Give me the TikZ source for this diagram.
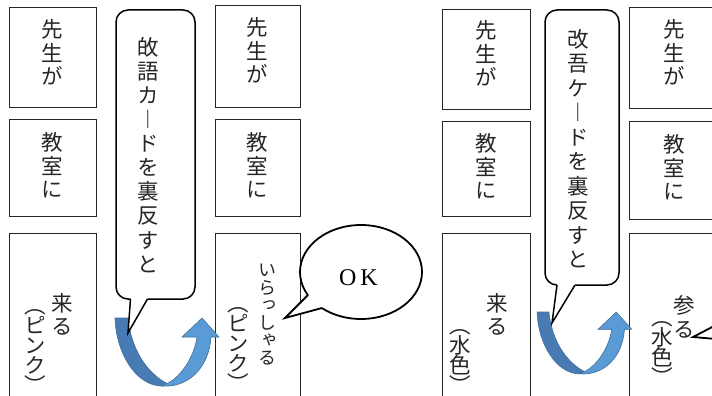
\documentclass[tikz,border=0pt]{standalone}
\usepackage{fontspec}
\usetikzlibrary{shapes.geometric}
\newfontfamily\vjp[RawFeature=+vert]{Noto Sans CJK JP}
\newfontfamily\okfont{Liberation Serif}
\definecolor{adark}{RGB}{72,122,180}
\definecolor{alight}{RGB}{91,155,213}
\definecolor{aline}{RGB}{65,113,156}
\makeatletter
\newcommand\Vt[2]{\vbox{\offinterlineskip\@tfor\V@c:=#2\do{\hbox to 24pt{\hss\vrule height\dimexpr#1pt/2+0.38em\relax depth\dimexpr#1pt/2-0.38em\relax width 0pt\V@c\hss}}}}
\makeatother
\newcommand\uarrow{%
  \filldraw[fill=adark, draw=aline, line width=0.6pt] (-1,0) .. controls (0,35) and (20,68) .. (46,68) -- (52,66) .. controls (30,55) and (15,30) .. (12,0) -- cycle;
  \filldraw[fill=alight, draw=aline, line width=0.6pt] (46,68) .. controls (72,70) and (93,50) .. (95,19) -- (103,19) -- (86,0) -- (66,19) -- (81,19) .. controls (78,40) and (64,60) .. (50,66) -- cycle;}
\tikzset{
  card/.style={draw=black!85, line width=0.8pt, rectangle, inner sep=0pt},
  callbox/.style={draw=black, line width=1.5pt, rounded corners=12pt, fill=white, rectangle, inner sep=0pt},
  vt/.style={inner sep=0pt, text=black!85, font=\vjp\fontsize{21.5}{24}\selectfont},
  vts/.style={inner sep=0pt, text=black!85, font=\vjp\fontsize{18}{20}\selectfont},
  tailline/.style={draw=black, line width=1.5pt, line join=miter},
}
\begin{document}
\begin{tikzpicture}[x=1pt, y=-1pt]
\useasboundingbox (0,0) rectangle (712,396);
\fill[white] (0,0) rectangle (712,396);
% left panel cards
\node[card, minimum width=87pt, minimum height=100pt] (a1) at (52.5,57) {};
\node[card, minimum width=87pt, minimum height=97pt] (a2) at (52.5,167.5) {};
\node[card, minimum width=87pt, minimum height=177pt] (a3) at (52.5,321.5) {};
\node[card, minimum width=85pt, minimum height=102pt] (b1) at (257.5,56) {};
\node[card, minimum width=85pt, minimum height=97pt] (b2) at (257.5,167.5) {};
\node[card, minimum width=85pt, minimum height=177pt] (b3) at (257.5,321.5) {};
% right panel cards
\node[card, minimum width=88pt, minimum height=100pt] (d1) at (486,59) {};
\node[card, minimum width=88pt, minimum height=95pt] (d2) at (486,168.5) {};
\node[card, minimum width=88pt, minimum height=177pt] (d3) at (486,321.5) {};
\node[card, minimum width=101pt, minimum height=101pt] (e1) at (679.5,57.5) {};
\node[card, minimum width=101pt, minimum height=98pt] (e2) at (679.5,170) {};
\node[card, minimum width=101pt, minimum height=177pt] (e3) at (679.5,321.5) {};
% U-turn arrows
\begin{scope}[shift={(116,318)}]\uarrow\end{scope}
\begin{scope}[shift={(538,312)}, scale=0.91]\uarrow\end{scope}
% callouts
\node[callbox, minimum width=79pt, minimum height=289pt] (c1) at (155.5,154.5) {};
\coordinate (c1tip) at (128,333);
\fill[white] (130.5,296.5) -- (130.5,299.5) -- (c1tip) -- (147.5,299.5) -- (147.5,296.5) -- cycle;
\draw[tailline] (130.5,299) -- (c1tip) -- (147.5,299);
\node[callbox, minimum width=74pt, minimum height=275pt] (c2) at (582,147.5) {};
\coordinate (c2tip) at (552,323);
\fill[white] (557,282.5) -- (557,285.5) -- (c2tip) -- (575,285.5) -- (575,282.5) -- cycle;
\draw[tailline] (557,285) -- (c2tip) -- (575,285);
% texts left panel
\node[vt] (ta1) at (52,53) {\Vt{23.5}{先生が}};
\node[vt] (ta2) at (52,166) {\Vt{23.5}{教室に}};
\node[vt] (ta3) at (62,314.5) {\Vt{23}{来る}};
\node[vt] (ta3p) at (35,345) {\Vt{20}{︵ピンク︶}};
\node[vt] (tb1) at (257,51) {\Vt{23.5}{先生が}};
\node[vt] (tb2) at (257,166) {\Vt{23.5}{教室に}};
\node[vts] (tb3) at (267,313.5) {\Vt{17.5}{いらっしゃる}};
\node[vt] (tb3p) at (238,343) {\Vt{20}{︵ピンク︶}};
\node[vt] (tc1) at (148,155.5) {\Vt{24.1}{敀語カ︱ドを裏反すと}};
% texts right panel
\node[vt] (tc2) at (578,149.5) {\Vt{24.5}{改吾ケ︱ドを裏反すと}};
\node[vt] (td1) at (486,54) {\Vt{23.5}{先生が}};
\node[vt] (td2) at (486,167) {\Vt{23.5}{教室に}};
\node[vt] (td3) at (497,314.5) {\Vt{23}{来る}};
\node[vt] (td3p) at (460,355) {\Vt{20}{︵水色︶}};
\node[vt] (te1) at (674,53) {\Vt{23.5}{先生が}};
\node[vt] (te2) at (674,168) {\Vt{23.5}{教室に}};
\node[vt] (te3) at (684,317) {\Vt{24}{参る}};
\node[vt] (te3p) at (662,347) {\Vt{20}{︵水色︶}};
% OK bubble
\node[draw=black, line width=1.8pt, ellipse, minimum width=122pt, minimum height=94pt, fill=white, inner sep=0pt] (okb) at (361,272) {};
\coordinate (oktip) at (285,318);
\fill[white] (oktip) -- (308,295) -- (318,291) -- (327,302) -- (322,308) -- cycle;
\draw[line width=1.8pt, line join=miter] (308,295) -- (oktip) -- (322,308);
\node[inner sep=0pt, font=\okfont\fontsize{24}{26}\selectfont, text=black] (oktext) at (358.5,277.5) {O\hspace{4pt}K};
% partial bubble tail at right edge
\coordinate (rtip) at (693,337);
\draw[line width=1.8pt, line join=miter] (716,325) -- (rtip) -- (716,339);
\end{tikzpicture}
\end{document}
